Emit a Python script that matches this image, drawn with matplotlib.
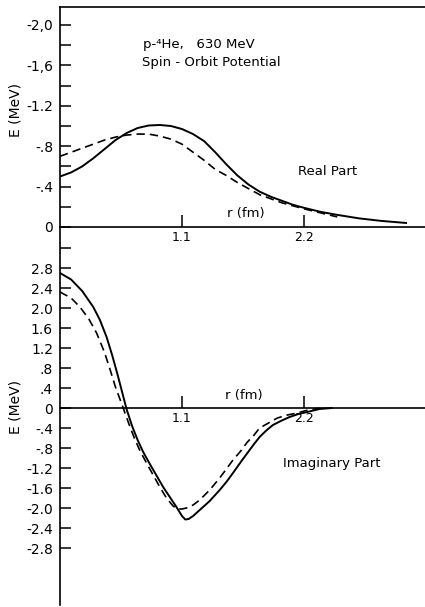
import numpy as np
import matplotlib
matplotlib.use("Agg")
import matplotlib.pyplot as plt

# real part (upper panel), E in MeV vs r in fm
r_re_solid = [0.00, 0.10, 0.20, 0.30, 0.40, 0.50, 0.60, 0.70, 0.80, 0.90, 1.00, 1.10, 1.20,
              1.30, 1.40, 1.50, 1.60, 1.70, 1.80, 1.90, 2.00, 2.10, 2.20, 2.35, 2.50, 2.70,
              2.90, 3.12]
e_re_solid = [-0.50, -0.54, -0.60, -0.68, -0.77, -0.86, -0.93, -0.98, -1.005, -1.01, -1.00,
              -0.97, -0.92, -0.85, -0.74, -0.62, -0.51, -0.42, -0.35, -0.30, -0.26, -0.22,
              -0.19, -0.15, -0.12, -0.085, -0.06, -0.04]
r_re_dash = [0.00, 0.10, 0.20, 0.30, 0.40, 0.50, 0.60, 0.70, 0.80, 0.90, 1.00, 1.10, 1.20,
             1.30, 1.40, 1.50, 1.60, 1.70, 1.80, 1.90, 2.00, 2.10, 2.20, 2.35, 2.50]
e_re_dash = [-0.70, -0.74, -0.78, -0.82, -0.86, -0.89, -0.91, -0.92, -0.92, -0.90, -0.87,
             -0.82, -0.74, -0.66, -0.57, -0.51, -0.44, -0.38, -0.32, -0.28, -0.24, -0.21,
             -0.18, -0.14, -0.10]

# imaginary part (lower panel)
r_im_solid = [0.00, 0.10, 0.20, 0.30, 0.36, 0.42, 0.47, 0.52, 0.56, 0.60, 0.65, 0.70, 0.75,
              0.81, 0.87, 0.93, 0.99, 1.05, 1.10, 1.13, 1.16, 1.20, 1.26, 1.35, 1.44, 1.50,
              1.56, 1.63, 1.69, 1.75, 1.80, 1.86, 1.92, 2.00, 2.07, 2.15, 2.23, 2.34, 2.45]
e_im_solid = [2.70, 2.57, 2.34, 2.02, 1.76, 1.42, 1.06, 0.66, 0.32, -0.02, -0.36, -0.64,
              -0.88, -1.12, -1.35, -1.58, -1.78, -1.98, -2.16, -2.23, -2.22, -2.16, -2.04,
              -1.86, -1.64, -1.48, -1.30, -1.08, -0.90, -0.72, -0.58, -0.45, -0.34, -0.25,
              -0.18, -0.12, -0.08, -0.02, 0.0]
r_im_dash = [0.00, 0.10, 0.18, 0.26, 0.33, 0.40, 0.45, 0.50, 0.57, 0.62, 0.67, 0.72, 0.78,
             0.84, 0.90, 0.96, 1.02, 1.06, 1.10, 1.14, 1.20, 1.26, 1.35, 1.44, 1.50, 1.56,
             1.63, 1.69, 1.75, 1.80, 1.88, 1.96, 2.05, 2.14, 2.22, 2.28, 2.34]
e_im_dash = [2.32, 2.20, 2.02, 1.78, 1.50, 1.12, 0.78, 0.42, 0.00, -0.31, -0.60, -0.85,
             -1.10, -1.34, -1.58, -1.80, -1.96, -2.02, -2.02, -2.00, -1.94, -1.84, -1.64,
             -1.40, -1.22, -1.04, -0.86, -0.68, -0.54, -0.40, -0.30, -0.20, -0.14, -0.10,
             -0.05, -0.03, 0.0]

re_ticks = [0, -0.4, -0.8, -1.2, -1.6, -2.0]
re_labels = ["0", "-.4", "-.8", "-1.2", "-1,6", "-2,0"]
re_minor = [-0.2, -0.6, -1.0, -1.4, -1.8]
im_ticks = [3.2, 2.8, 2.4, 2.0, 1.6, 1.2, 0.8, 0.4, 0, -0.4, -0.8, -1.2, -1.6, -2.0, -2.4, -2.8]
im_labels = ["", "2.8", "2.4", "2.0", "1.6", "1.2", ".8", ".4", "0", "-.4", "-.8", "-1.2",
             "-1.6", "-2.0", "-2.4", "-2.8"]
r_ticks = [1.1, 2.2]
r_labels = ["1.1", "2.2"]

W, H = 425, 607
fig = plt.figure(figsize=(4.25, 6.07), dpi=100)
plt.rcParams['font.family'] = 'DejaVu Sans'

def frac(x0, y0, x1, y1):
    return [x0 / W, 1 - y1 / H, (x1 - x0) / W, (y1 - y0) / H]

xmax = (W - 60) / 110.9
lw = 1.4
dash = (0, (5, 3))

# upper panel
ax1 = fig.add_axes(frac(60, 7, W, 227))
ax1.plot(r_re_solid, e_re_solid, color='black', lw=lw)
ax1.plot(r_re_dash, e_re_dash, color='black', lw=1.2, linestyle=dash)
ax1.set_xlim(0, xmax)
ax1.set_ylim(0, -220 / 101)
ax1.spines['right'].set_visible(False)
for s in ['left', 'bottom', 'top']:
    ax1.spines[s].set_linewidth(1.2)
ax1.set_yticks(re_ticks)
ax1.set_yticklabels(re_labels)
ax1.set_yticks(re_minor, minor=True)
ax1.set_xticks(r_ticks)
ax1.set_xticklabels(r_labels)
ax1.tick_params(axis='y', which='both', direction='in', length=8, width=1.1, labelsize=10, pad=5)
ax1.tick_params(axis='x', direction='in', length=9, width=1.1, labelsize=9, pad=3)
ax1.set_ylabel("E (MeV)", fontsize=10)
ax1.yaxis.set_label_coords(-0.104, (227 - 110) / 220)
ax1.text(0.75, -1.81, "p-\u2074He,   630 MeV", fontsize=9.5, va='center')
ax1.text(0.74, -1.63, "Spin - Orbit Potential", fontsize=9.5, va='center')
ax1.text(2.15, -0.545, "Real Part", fontsize=9.5, va='center')
ax1.text(1.51, -0.13, "r (fm)", fontsize=9.5, va='center')

# lower panel
ax2 = fig.add_axes(frac(60, 227, W, 605))
ax2.plot(r_im_solid, e_im_solid, color='black', lw=lw)
ax2.plot(r_im_dash, e_im_dash, color='black', lw=1.2, linestyle=dash)
ax2.set_xlim(0, xmax)
ax2.set_ylim(-(605 - 408) / 50, (408 - 227) / 50)
ax2.patch.set_alpha(0)
ax2.spines['right'].set_visible(False)
ax2.spines['top'].set_visible(False)
ax2.spines['bottom'].set_position(('data', 0))
for s in ['left', 'bottom']:
    ax2.spines[s].set_linewidth(1.2)
ax2.set_yticks(im_ticks)
ax2.set_yticklabels(im_labels)
ax2.set_xticks(r_ticks)
ax2.set_xticklabels(r_labels)
ax2.tick_params(axis='y', direction='in', length=8, width=1.1, labelsize=10, pad=5)
ax2.tick_params(axis='x', direction='in', length=9, width=1.1, labelsize=9, pad=3)
ax2.set_ylabel("E (MeV)", fontsize=10)
ax2.yaxis.set_label_coords(-0.104, (605 - 407) / 378)
ax2.text(1.49, 0.26, "r (fm)", fontsize=9.5, va='center')
ax2.text(2.01, -1.12, "Imaginary Part", fontsize=9.5, va='center')

fig.savefig("out.png", dpi=100)
